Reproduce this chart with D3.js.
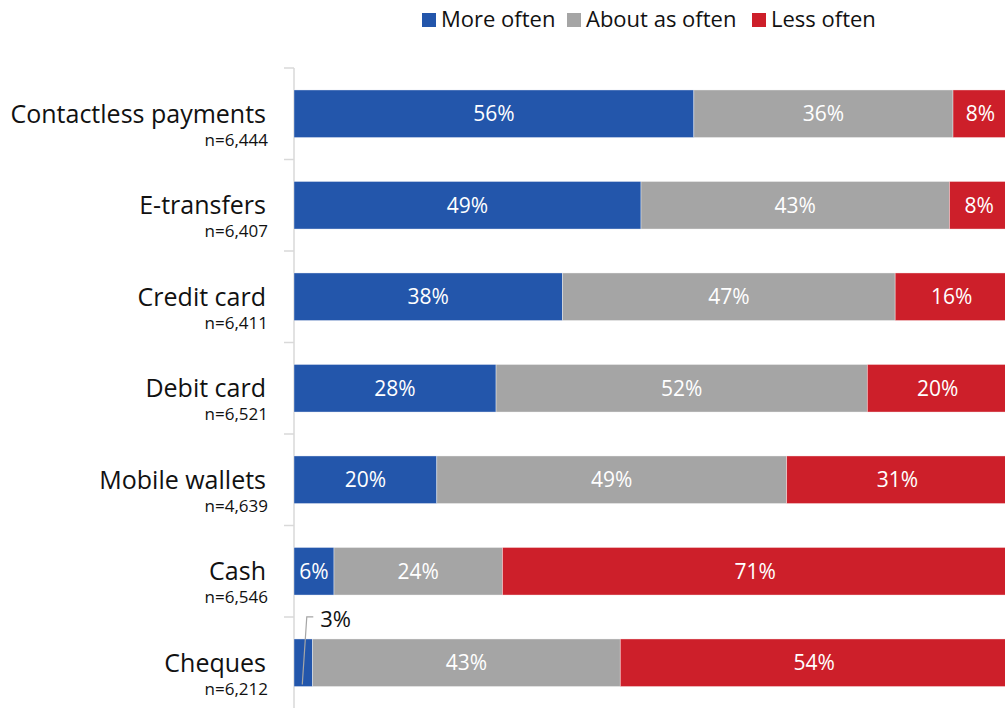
<!DOCTYPE html>
<html>
<head>
<meta charset="utf-8">
<script src="https://cdn.jsdelivr.net/npm/d3@7"></script>
<style>
  html, body { margin: 0; padding: 0; background: #fff; }
  svg { display: block; font-family: "Open Sans", sans-serif; }
</style>
</head>
<body>
<svg id="chart" width="1005" height="708"></svg>
<script>
const categories = ["Contactless payments", "E-transfers", "Credit card", "Debit card", "Mobile wallets", "Cash", "Cheques"];
const sampleSizes = ["n=6,444", "n=6,407", "n=6,411", "n=6,521", "n=4,639", "n=6,546", "n=6,212"];
const seriesNames = ["More often", "About as often", "Less often"];
const moreOften   = [56.0, 48.6, 37.6, 28.3, 20.0, 5.6, 2.6];
const aboutAsOften = [36.3, 43.2, 46.6, 52.0, 49.0, 23.6, 43.1];
const lessOften   = [7.7, 8.3, 15.8, 19.7, 31.0, 70.8, 54.3];
const colors = ["#2356AB", "#A5A5A5", "#CD1F2A"];

const svg = d3.select("#chart");

const x = d3.scaleLinear().domain([0, 100]).range([294, 1008]);
const y = d3.scaleBand().domain(categories).range([68, 708.5]).paddingInner(0.48).paddingOuter(0.24);

const rows = categories.map((c, i) => ({
  cat: c, n: sampleSizes[i],
  "More often": moreOften[i], "About as often": aboutAsOften[i], "Less often": lessOften[i]
}));
const stacked = d3.stack().keys(seriesNames)(rows);

// axis
const yAxis = d3.axisLeft(y).tickSize(0).tickFormat("");
const axisG = svg.append("g").attr("transform", "translate(294,0)").call(yAxis);
axisG.select(".domain").remove();
axisG.append("line").attr("x1", 0).attr("x2", 0).attr("y1", 68).attr("y2", 708.5)
  .attr("stroke", "#D9D9D9").attr("stroke-width", 1.5);
const boundaries = categories.map(c => y(c) - y.step() * y.paddingInner() / 2);
axisG.selectAll("line.bt").data(boundaries).enter().append("line").attr("class", "bt")
  .attr("x1", -10).attr("x2", 0).attr("y1", d => d).attr("y2", d => d)
  .attr("stroke", "#D9D9D9").attr("stroke-width", 1.5);

// bars
const layers = svg.append("g").selectAll("g").data(stacked).enter().append("g")
  .attr("fill", (d, i) => colors[i]);
layers.selectAll("rect").data(d => d).enter().append("rect")
  .attr("x", d => x(d[0]))
  .attr("y", d => y(d.data.cat))
  .attr("width", d => x(d[1]) - x(d[0]))
  .attr("height", y.bandwidth())
  .attr("stroke", "#ffffff").attr("stroke-opacity", 0.5).attr("stroke-width", 0.75);

// data labels
stacked.forEach((layer, li) => {
  layer.forEach(d => {
    const v = d[1] - d[0];
    const inside = v >= 4;
    if (inside) {
      svg.append("text")
        .attr("x", (x(d[0]) + x(d[1])) / 2)
        .attr("y", y(d.data.cat) + y.bandwidth() / 2 + 2)
        .attr("text-anchor", "middle").attr("dominant-baseline", "middle")
        .attr("font-size", 21).attr("fill", "#fff")
        .text(Math.round(v) + "%");
    } else {
      const cx = (x(d[0]) + x(d[1])) / 2;
      const by = y(d.data.cat);
      svg.append("polyline")
        .attr("points", [[cx - 1, by + y.bandwidth() - 2], [cx + 3.5, by - 22], [cx + 10, by - 22]].map(p => p.join(",")).join(" "))
        .attr("fill", "none").attr("stroke", "#A5A5A5").attr("stroke-width", 1.2);
      svg.append("text")
        .attr("x", cx + 17)
        .attr("y", by - 18)
        .attr("dominant-baseline", "middle")
        .attr("font-size", 22).attr("fill", "#111")
        .text(Math.round(v) + "%");
    }
  });
});

// category labels
const lab = svg.append("g");
rows.forEach(r => {
  const cy = y(r.cat) + y.bandwidth() / 2;
  lab.append("text").attr("x", 266).attr("y", cy + 9)
    .attr("text-anchor", "end").attr("font-size", 25).attr("fill", "#111")
    .text(r.cat);
  lab.append("text").attr("x", 268).attr("y", cy + 32)
    .attr("text-anchor", "end").attr("font-size", 17).attr("fill", "#111")
    .text(r.n);
});

// legend
const legendX = [422, 567, 752];
const lg = svg.append("g");
seriesNames.forEach((s, i) => {
  lg.append("rect").attr("x", legendX[i]).attr("y", 13).attr("width", 14).attr("height", 14).attr("fill", colors[i]);
  lg.append("text").attr("x", legendX[i] + 19).attr("y", 27).attr("font-size", 22).attr("fill", "#111").text(s);
});
</script>
</body>
</html>
